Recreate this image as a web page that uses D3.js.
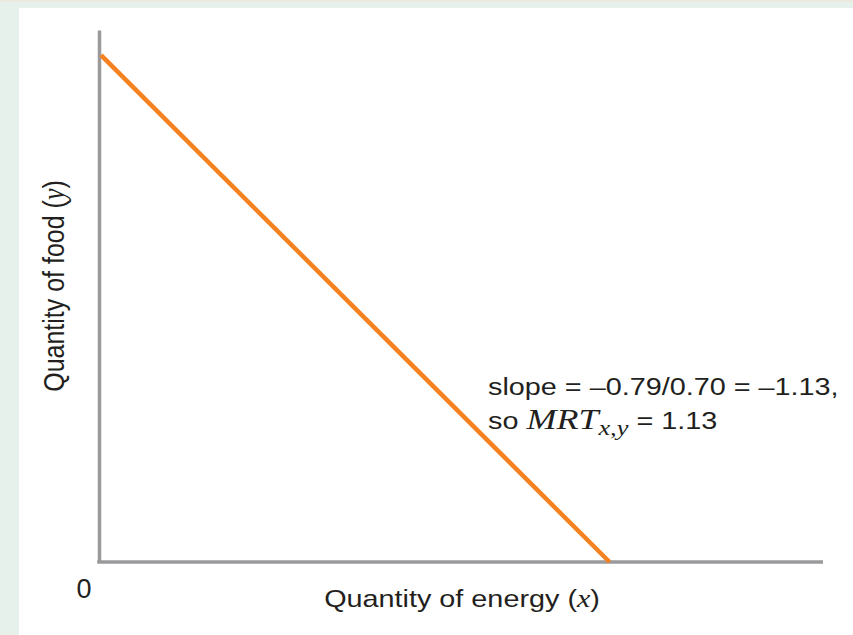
<!DOCTYPE html>
<html><head><meta charset="utf-8">
<script src="https://cdn.jsdelivr.net/npm/d3@7"></script>
<style>
html,body{margin:0;padding:0;background:#e5f1ea;}
svg{display:block;}
</style></head>
<body>
<script>
// Data (arbitrary units, slope = -1.13)
const energyValues = [0, 5.0];
const foodValues = [5.65, 0];
const xDomain = [0, 7.09];
const yDomain = [0, 5.93];
const xLabel = "Quantity of energy (";
const yLabel = "Quantity of food (";
const originLabel = "0";

const W = 853, H = 635;
const svg = d3.select("body").append("svg").attr("width", W).attr("height", H);
svg.append("rect").attr("x", 0).attr("y", 0).attr("width", W).attr("height", 2).attr("fill", "#ece9df");
svg.append("rect").attr("x", 19).attr("y", 8).attr("width", W - 19).attr("height", H - 8).attr("fill", "#ffffff");

const x0 = 99, y0 = 562;
const x = d3.scaleLinear().domain(xDomain).range([x0, 823]);
const y = d3.scaleLinear().domain(yDomain).range([y0, 30]);

const gx = svg.append("g").attr("transform", `translate(0,${y0})`)
  .call(d3.axisBottom(x).tickValues([]).tickSizeOuter(0));
const gy = svg.append("g").attr("transform", `translate(${x0},0)`)
  .call(d3.axisLeft(y).tickValues([]).tickSizeOuter(0));
[gx, gy].forEach(g => g.select(".domain").attr("stroke", "#9a9a9c").attr("stroke-width", 3.5));
gx.select(".domain").attr("d", `M${x0 - 1.75},0H${x.range()[1]}`);

const pts = energyValues.map((e, i) => ({x: e, y: foodValues[i]}));
svg.append("path").datum(pts)
  .attr("d", d3.line().x(d => x(d.x) + (d.x === 0 ? 2 : 0)).y(d => y(d.y)))
  .attr("fill", "none").attr("stroke", "#f58220").attr("stroke-width", 4.5);

const sans = "'Liberation Sans', Arial, sans-serif";
const serif = "'Liberation Serif', 'Times New Roman', serif";
const SX = 1.2;

svg.append("text").attr("x", 84).attr("y", 598).attr("text-anchor", "middle")
  .attr("font-family", sans).attr("font-size", 27).attr("fill", "#231f20").text(originLabel);

const xl = svg.append("text").attr("transform", `translate(462,607) scale(${SX},1)`).attr("text-anchor", "middle")
  .attr("font-family", sans).attr("font-size", 24).attr("fill", "#231f20");
xl.append("tspan").text(xLabel);
xl.append("tspan").attr("font-family", serif).attr("font-style", "italic").attr("font-size", 25).text("x");
xl.append("tspan").text(")");

const yl = svg.append("text").attr("transform", `translate(64,286) scale(${SX},1) rotate(-90)`).attr("text-anchor", "middle")
  .attr("font-family", sans).attr("font-size", 25).attr("fill", "#231f20");
yl.append("tspan").text(yLabel);
yl.append("tspan").attr("font-family", serif).attr("font-style", "italic").attr("font-size", 26).text("y");
yl.append("tspan").text(")");

const a1 = svg.append("text").attr("transform", `translate(488,395) scale(${SX},1)`)
  .attr("font-family", sans).attr("font-size", 24).attr("fill", "#231f20")
  .text("slope = \u20130.79/0.70 = \u20131.13,");
const a2 = svg.append("text").attr("transform", `translate(488,429) scale(${SX},1)`)
  .attr("font-family", sans).attr("font-size", 24).attr("fill", "#231f20");
a2.append("tspan").text("so ");
a2.append("tspan").attr("font-family", serif).attr("font-style", "italic").attr("font-size", 30).text("MRT");
a2.append("tspan").attr("font-family", serif).attr("font-style", "italic").attr("font-size", 22).attr("dy", 6).text("x,y");
a2.append("tspan").attr("dy", -6).text(" = 1.13");
</script>
</body></html>
